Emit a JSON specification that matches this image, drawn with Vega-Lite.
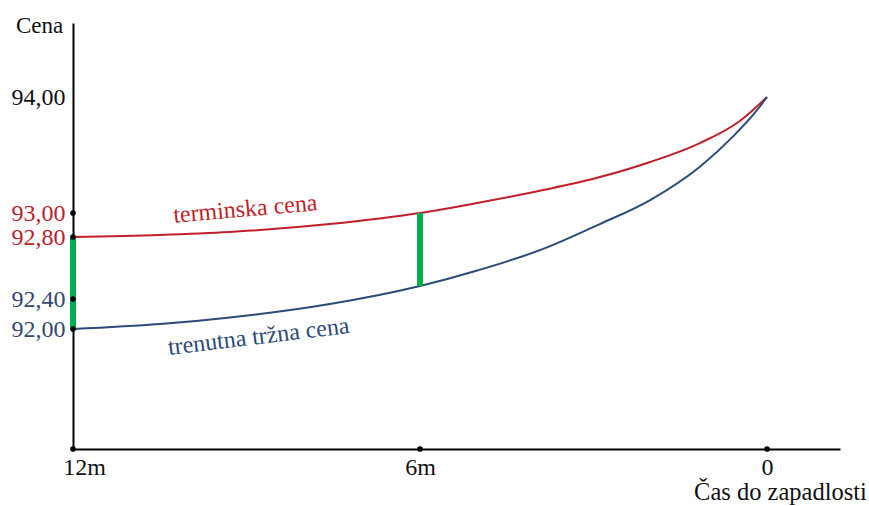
{
  "$schema": "https://vega.github.io/schema/vega-lite/v6.json",
  "width": 767,
  "height": 426,
  "autosize": {"type": "none"},
  "padding": {"left": 73, "top": 23, "right": 29, "bottom": 57},
  "background": "white",
  "config": {"view": {"stroke": null}},
  "datasets": {
    "curves": [
      {"series": "terminska cena", "t": 12, "p": 92.8},
      {"series": "terminska cena", "t": 10.5, "p": 92.817},
      {"series": "terminska cena", "t": 9.29, "p": 92.842},
      {"series": "terminska cena", "t": 7.56, "p": 92.908},
      {"series": "terminska cena", "t": 6, "p": 93.0},
      {"series": "terminska cena", "t": 5.01, "p": 93.086},
      {"series": "terminska cena", "t": 3.87, "p": 93.198},
      {"series": "terminska cena", "t": 2.89, "p": 93.31},
      {"series": "terminska cena", "t": 2.02, "p": 93.44},
      {"series": "terminska cena", "t": 1.16, "p": 93.603},
      {"series": "terminska cena", "t": 0.47, "p": 93.793},
      {"series": "terminska cena", "t": 0, "p": 94.0},
      {"series": "trenutna tržna cena", "t": 12, "p": 92.0},
      {"series": "trenutna tržna cena", "t": 10.5, "p": 92.067},
      {"series": "trenutna tržna cena", "t": 9.29, "p": 92.153},
      {"series": "trenutna tržna cena", "t": 7.56, "p": 92.333},
      {"series": "trenutna tržna cena", "t": 6, "p": 92.484},
      {"series": "trenutna tržna cena", "t": 5.01, "p": 92.584},
      {"series": "trenutna tržna cena", "t": 3.87, "p": 92.723},
      {"series": "trenutna tržna cena", "t": 2.89, "p": 92.908},
      {"series": "trenutna tržna cena", "t": 2.02, "p": 93.112},
      {"series": "trenutna tržna cena", "t": 1.16, "p": 93.399},
      {"series": "trenutna tržna cena", "t": 0.59, "p": 93.658},
      {"series": "trenutna tržna cena", "t": 0.17, "p": 93.888},
      {"series": "trenutna tržna cena", "t": 0, "p": 94.0}
    ],
    "gaps": [
      {"t": 12, "p": 92.0, "p2": 92.8},
      {"t": 6, "p": 92.484, "p2": 93.0}
    ],
    "dots": [
      {"t": 12, "p": 93.0},
      {"t": 12, "p": 92.8},
      {"t": 12, "p": 92.4},
      {"t": 12, "p": 92.0},
      {"t": 12, "p": 90.4},
      {"t": 6, "p": 90.4},
      {"t": 0, "p": 90.4}
    ],
    "labels": [
      {"series": "terminska cena", "t": 9.01, "p": 92.971, "angle": -5},
      {"series": "trenutna tržna cena", "t": 8.775, "p": 91.8, "angle": -7}
    ]
  },
  "encoding": {
    "x": {
      "field": "t",
      "type": "quantitative",
      "scale": {"domain": [-1.262, 12], "reverse": true, "nice": false, "zero": false},
      "axis": {
        "values": [12, 6, 0],
        "labelExpr": "datum.value == 0 ? '0' : datum.value + 'm'",
        "ticks": false,
        "grid": false,
        "domainColor": "#000000",
        "domainWidth": 2,
        "labelFont": "Liberation Serif",
        "labelFontSize": 24,
        "labelColor": "#111111",
        "labelPadding": 6,
        "labelFlush": false,
        "labelOverlap": false,
        "labelOffset": {"condition": {"test": "datum.value == 12", "value": 11}, "value": 0},
        "title": "Čas do zapadlosti",
        "titleFont": "Liberation Serif",
        "titleFontSize": 24.5,
        "titleFontWeight": "normal",
        "titleColor": "#111111",
        "titleX": 707,
        "titleY": 50,
        "titleAlign": "center",
        "titleBaseline": "alphabetic"
      }
    },
    "y": {
      "field": "p",
      "type": "quantitative",
      "scale": {
        "domain": [90.4, 92, 92.4, 92.8, 93, 94, 94.638],
        "range": [426, 306, 276, 214, 190, 74, 0],
        "nice": false,
        "zero": false
      },
      "axis": {
        "values": [92, 92.4, 92.8, 93, 94],
        "labelExpr": "replace(format(datum.value, '.2f'), '.', ',')",
        "ticks": false,
        "grid": false,
        "domainColor": "#000000",
        "domainWidth": 2,
        "labelFont": "Liberation Serif",
        "labelFontSize": 24,
        "labelPadding": 8,
        "labelOverlap": false,
        "labelFlush": false,
        "labelColor": {
          "condition": [
            {"test": "datum.value >= 92.79 && datum.value < 93.5", "value": "#b8232b"},
            {"test": "datum.value < 92.5", "value": "#34486f"}
          ],
          "value": "#111111"
        },
        "title": "Cena",
        "titleFont": "Liberation Serif",
        "titleFontSize": 23,
        "titleFontWeight": "normal",
        "titleColor": "#111111",
        "titleAngle": 0,
        "titleX": -34,
        "titleY": 9,
        "titleAlign": "center",
        "titleBaseline": "alphabetic"
      }
    }
  },
  "layer": [
    {
      "data": {"name": "curves"},
      "mark": {"type": "line", "interpolate": "monotone", "strokeWidth": 2},
      "encoding": {
        "order": {"field": "t", "sort": "descending"},
        "color": {
          "field": "series",
          "type": "nominal",
          "scale": {"domain": ["terminska cena", "trenutna tržna cena"], "range": ["#c21f2b", "#2d4a78"]},
          "legend": null
        }
      }
    },
    {
      "data": {"name": "gaps"},
      "mark": {"type": "rule", "strokeWidth": 6, "color": "#00b04f"},
      "encoding": {"y2": {"field": "p2"}}
    },
    {
      "data": {"name": "dots"},
      "mark": {"type": "point", "filled": true, "color": "#000000", "opacity": 1, "size": 32},
      "encoding": {}
    },
    {
      "data": {"name": "labels"},
      "mark": {"type": "text", "font": "Liberation Serif", "fontSize": 24, "align": "center", "baseline": "alphabetic"},
      "encoding": {
        "text": {"field": "series"},
        "angle": {"field": "angle", "type": "quantitative", "scale": null},
        "color": {
          "field": "series",
          "type": "nominal",
          "scale": {"domain": ["terminska cena", "trenutna tržna cena"], "range": ["#b8232b", "#2f4570"]},
          "legend": null
        }
      }
    }
  ]
}
